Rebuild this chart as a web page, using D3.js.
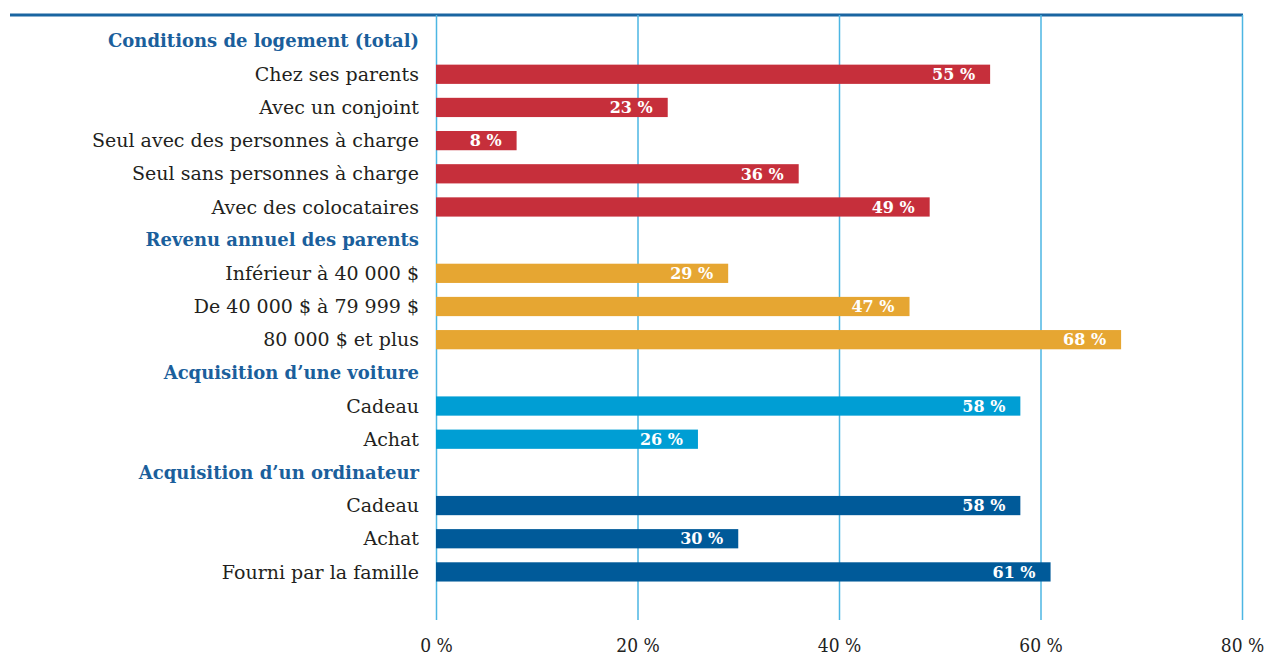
<!DOCTYPE html>
<html><head><meta charset="utf-8">
<script src="https://cdn.jsdelivr.net/npm/d3@7"></script>
<style>body{margin:0;background:#fff;}svg{display:block;}</style>
</head><body>
<svg id="c" width="1266" height="656"></svg>
<script>
const rows = [
  "Conditions de logement (total)", "Chez ses parents", "Avec un conjoint",
  "Seul avec des personnes à charge", "Seul sans personnes à charge", "Avec des colocataires",
  "Revenu annuel des parents", "Inférieur à 40 000 $", "De 40 000 $ à 79 999 $", "80 000 $ et plus",
  "Acquisition d’une voiture", "Cadeau", "Achat",
  "Acquisition d’un ordinateur", "Cadeau ", "Achat ", "Fourni par la famille"
];
const headers = ["Conditions de logement (total)", "Revenu annuel des parents", "Acquisition d’une voiture", "Acquisition d’un ordinateur"];
const barCategories = ["Chez ses parents", "Avec un conjoint", "Seul avec des personnes à charge", "Seul sans personnes à charge", "Avec des colocataires",
  "Inférieur à 40 000 $", "De 40 000 $ à 79 999 $", "80 000 $ et plus",
  "Cadeau", "Achat", "Cadeau ", "Achat ", "Fourni par la famille"];
const barValues = [55, 23, 8, 36, 49, 29, 47, 68, 58, 26, 58, 30, 61];
const barGroups = [0, 0, 0, 0, 0, 1, 1, 1, 2, 2, 3, 3, 3];
const groupColors = ["#c62f3b", "#e6a632", "#009ed4", "#005a99"];
const ticks = [0, 20, 40, 60, 80];

const svg = d3.select("#c");
const x = d3.scaleLinear().domain([0, 80]).range([436, 1242]);
const y = d3.scaleBand().domain(rows).range([24.5, 588.5]).paddingInner(0.42).paddingOuter(0.21);

// top rule
svg.append("line").attr("x1", 10).attr("x2", 1243).attr("y1", 15).attr("y2", 15)
  .attr("stroke", "#1a65a1").attr("stroke-width", 3);

// gridlines + tick labels
const axis = d3.axisBottom(x).tickValues(ticks).tickSize(-605).tickFormat(d => d + " %");
const ag = svg.append("g").attr("transform", "translate(0,620)").call(axis);
ag.select(".domain").remove();
ag.selectAll(".tick line").attr("stroke", "#4cb6e3").attr("stroke-width", 1.5);
ag.selectAll(".tick text").attr("y", 19).attr("fill", "#222")
  .attr("font-family", "'DejaVu Serif Condensed','DejaVu Serif',serif").attr("font-size", 19);

// labels
svg.append("g").selectAll("text").data(rows).join("text")
  .attr("x", 419).attr("y", d => y(d) + y.bandwidth() / 2).attr("dy", "0.35em")
  .attr("text-anchor", "end")
  .attr("font-family", "'DejaVu Serif',serif")
  .attr("font-size", d => headers.includes(d) ? 18 : 19)
  .attr("font-weight", d => headers.includes(d) ? "bold" : "normal")
  .attr("fill", d => headers.includes(d) ? "#1b5f9c" : "#231f20")
  .text(d => d.trim());

// bars
const bars = barCategories.map((c, i) => ({c, v: barValues[i], g: barGroups[i]}));
svg.append("g").selectAll("rect").data(bars).join("rect")
  .attr("x", x(0)).attr("y", d => y(d.c)).attr("height", y.bandwidth())
  .attr("width", d => x(d.v) - x(0)).attr("fill", d => groupColors[d.g]);

svg.append("g").selectAll("text").data(bars).join("text")
  .attr("x", d => x(d.v) - 15).attr("y", d => y(d.c) + y.bandwidth() / 2).attr("dy", "0.36em")
  .attr("text-anchor", "end").attr("fill", "#fff").attr("font-weight", "bold")
  .attr("font-family", "'DejaVu Serif',serif").attr("font-size", 16)
  .text(d => d.v + " %");
</script>
</body></html>
